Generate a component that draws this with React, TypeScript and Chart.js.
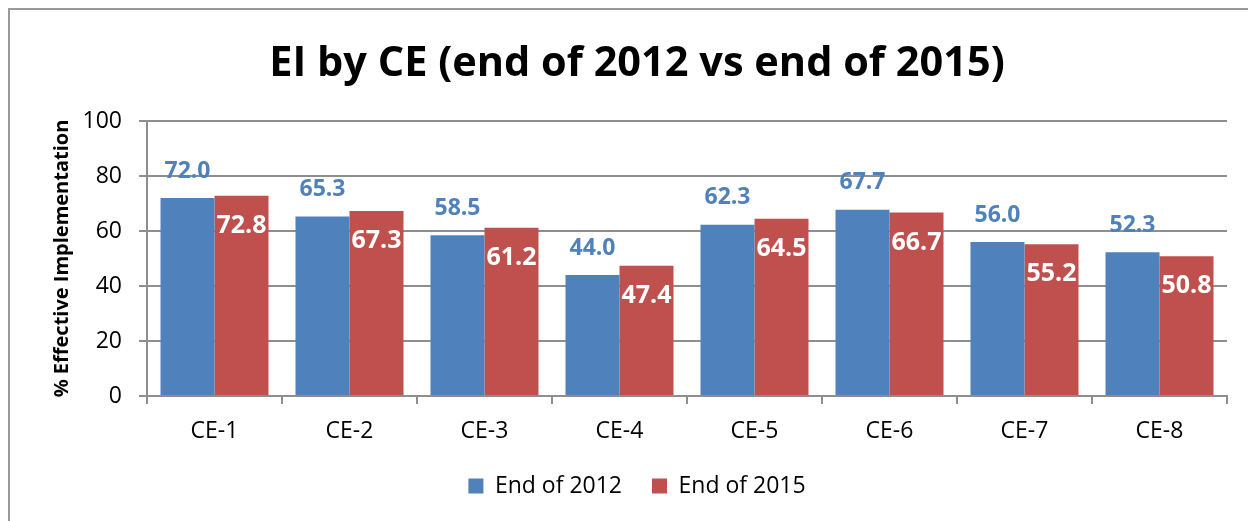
import React, { useEffect, useRef } from "react";
import { Chart, registerables } from "chart.js";

Chart.register(...registerables);

const categories = ["CE-1", "CE-2", "CE-3", "CE-4", "CE-5", "CE-6", "CE-7", "CE-8"];
const values2012 = [72.0, 65.3, 58.5, 44.0, 62.3, 67.7, 56.0, 52.3];
const values2015 = [72.8, 67.3, 61.2, 47.4, 64.5, 66.7, 55.2, 50.8];
const seriesNames = ["End of 2012", "End of 2015"];
const titleText = "EI by CE (end of 2012 vs end of 2015)";
const yTitle = "% Effective Implementation";

const BLUE = "#4F81BD";
const RED = "#C0504D";
const GRID = "#8e8e8e";
const FONT = "'Open Sans', 'Noto Sans', sans-serif";

const labelPlugin = {
  id: "barValueLabels",
  afterDatasetsDraw(chart: any) {
    const ctx = chart.ctx;
    ctx.save();
    ctx.textAlign = "center";
    ctx.textBaseline = "middle";
    chart.data.datasets.forEach((ds: any, di: number) => {
      const meta = chart.getDatasetMeta(di);
      meta.data.forEach((bar: any, i: number) => {
        const v = ds.data[i] as number;
        const txt = v.toFixed(1);
        if (di === 0) {
          ctx.font = `bold 23px ${FONT}`;
          ctx.fillStyle = BLUE;
          ctx.fillText(txt, bar.x, bar.y - 27);
        } else {
          ctx.font = `bold 25px ${FONT}`;
          ctx.fillStyle = "#ffffff";
          ctx.fillText(txt, bar.x, bar.y + 30);
        }
      });
    });
    ctx.restore();
  },
};

export default function App() {
  const ref = useRef<HTMLCanvasElement | null>(null);

  useEffect(() => {
    if (!ref.current) return;
    Chart.defaults.font.family = FONT;
    Chart.defaults.color = "#000";
    const chart = new Chart(ref.current, {
      type: "bar",
      data: {
        labels: categories,
        datasets: [
          {
            label: seriesNames[0],
            data: values2012,
            backgroundColor: BLUE,
            categoryPercentage: 0.8,
            barPercentage: 1.0,
          },
          {
            label: seriesNames[1],
            data: values2015,
            backgroundColor: RED,
            categoryPercentage: 0.8,
            barPercentage: 1.0,
          },
        ],
      },
      options: {
        responsive: false,
        animation: false,
        layout: { padding: { left: 10, right: 0, top: 0, bottom: 22.5 } },
        plugins: {
          title: {
            display: true,
            text: titleText,
            color: "#000",
            font: { size: 41.5, weight: "bold", family: FONT },
            padding: { top: 29, bottom: 32.2 },
          },
          legend: {
            display: true,
            position: "bottom",
            labels: {
              boxWidth: 15,
              boxHeight: 15,
              padding: 30,
              color: "#000",
              font: { size: 23, family: FONT },
            },
          },
          tooltip: { enabled: false },
        },
        scales: {
          x: {
            afterFit(scale: any) {
              scale.height = 48.5;
            },
            grid: {
              drawOnChartArea: false,
              drawTicks: true,
              tickLength: 8,
              color: GRID,
              lineWidth: 2,
            },
            border: { display: true, color: GRID, width: 2 },
            ticks: { padding: 14, color: "#000", font: { size: 23, family: FONT } },
          },
          y: {
            min: 0,
            max: 100,
            afterFit(scale: any) {
              scale.width = 127;
            },
            ticks: {
              stepSize: 20,
              padding: 17,
              color: "#000",
              font: { size: 23, family: FONT },
            },
            grid: {
              color: GRID,
              lineWidth: 2,
              tickLength: 8,
              drawTicks: true,
            },
            border: { display: true, color: GRID, width: 2 },
            title: {
              display: true,
              text: yTitle,
              color: "#000",
              font: { size: 20, weight: "bold", family: FONT },
              padding: { top: 30, bottom: 0 },
            },
          },
          y2: {
            position: "right",
            display: true,
            min: 0,
            max: 100,
            afterFit(scale: any) {
              scale.width = 27;
            },
            grid: { drawOnChartArea: false, drawTicks: false },
            border: { display: false },
            ticks: { display: false },
          },
        },
      },
      plugins: [labelPlugin],
    } as any);
    return () => chart.destroy();
  }, []);

  return (
    <div
      style={{
        width: 1248,
        height: 513,
        boxSizing: "border-box",
        borderTop: "2px solid #9a9a9a",
        borderLeft: "2px solid #9a9a9a",
        borderRight: "2px solid #9a9a9a",
        overflow: "hidden",
        background: "#fff",
      }}
    >
      <canvas ref={ref} width={1244} height={520} style={{ display: "block", width: 1244, height: 520 }} />
    </div>
  );
}
